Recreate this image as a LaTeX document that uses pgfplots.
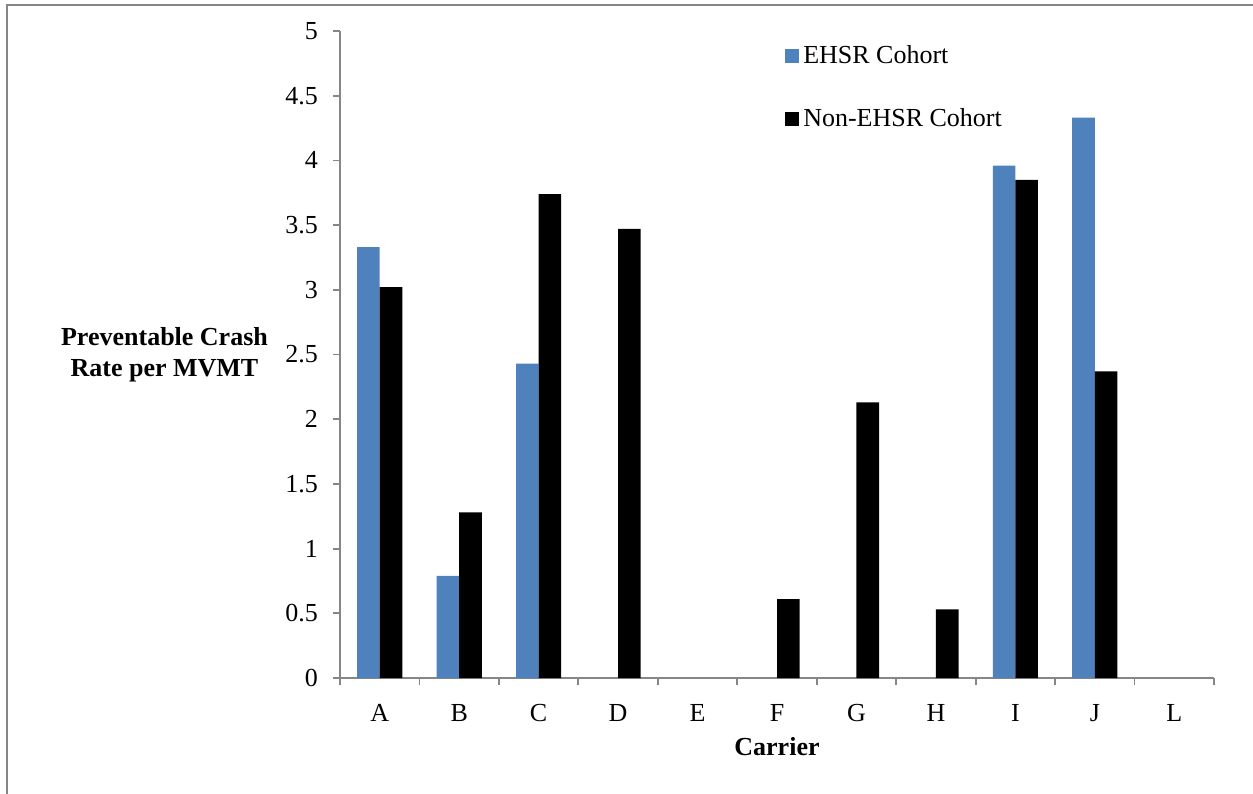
\documentclass[border=0pt]{standalone}
\usepackage{fontspec}
\setmainfont{Liberation Serif}
\usepackage{pgfplots}
\pgfplotsset{compat=1.18}
\definecolor{ehsr}{HTML}{4F81BD}
\definecolor{axgray}{HTML}{868686}
\begin{document}
\begin{tikzpicture}
\useasboundingbox (-170pt,-57.5pt) rectangle (456.5pt,339pt);
\begin{axis}[
  at={(0,0)}, anchor=south west,
  scale only axis, width=437pt, height=323.5pt,
  font=\fontsize{13}{15.6}\selectfont,
  ybar=0pt, bar width=11.3pt,
  xmin=-0.5, xmax=10.5, ymin=0, ymax=5,
  axis x line=bottom, axis y line=left,
  axis line style={-, axgray, line width=0.9pt},
  xtick={0,...,10},
  xticklabels={A,B,C,D,E,F,G,H,I,J,L},
  minor xtick={-0.5,0.5,...,10.5},
  major x tick style={draw=none},
  minor x tick style={axgray, line width=0.9pt},
  ytick={0,0.5,...,5},
  y tick style={axgray, line width=0.9pt},
  tick align=outside,
  major tick length=3.5pt, minor tick length=3.5pt,
  /pgf/number format/assume math mode=true,
  yticklabel style={xshift=-4pt},
  xticklabel style={yshift=-6pt},
  xlabel={\textbf{Carrier}},
  xlabel style={at={(rel axis cs:0.5,0)}, anchor=center, yshift=-34.5pt},
  ylabel={\textbf{Preventable Crash}\\\textbf{Rate per MVMT}},
  ylabel style={at={(rel axis cs:0,0.5)}, anchor=center, rotate=-90, align=center, xshift=-87.75pt},
  legend style={draw=none, fill=none, at={(rel axis cs:0.509,0.985)}, anchor=north west,
    row sep=17pt, font=\fontsize{13}{15.6}\selectfont, inner sep=0pt,
    /tikz/every even column/.append style={column sep=2pt}},
  legend cell align=left,
  legend image code/.code={\fill[#1] (0pt,-3.5pt) rectangle (7pt,3.5pt);},
]
\addplot[fill=ehsr, draw=none] coordinates {(0,3.33) (1,0.79) (2,2.43) (8,3.96) (9,4.33)};
\addplot[fill=black, draw=none] coordinates {(0,3.02) (1,1.28) (2,3.74) (3,3.47) (5,0.61) (6,2.13) (7,0.53) (8,3.85) (9,2.37)};
\legend{EHSR Cohort, Non-EHSR Cohort}
\end{axis}
\draw[axgray, line width=1pt] (-166.5pt,-60pt) -- (-166.5pt,336.5pt) -- (460pt,336.5pt);
\end{tikzpicture}
\end{document}
